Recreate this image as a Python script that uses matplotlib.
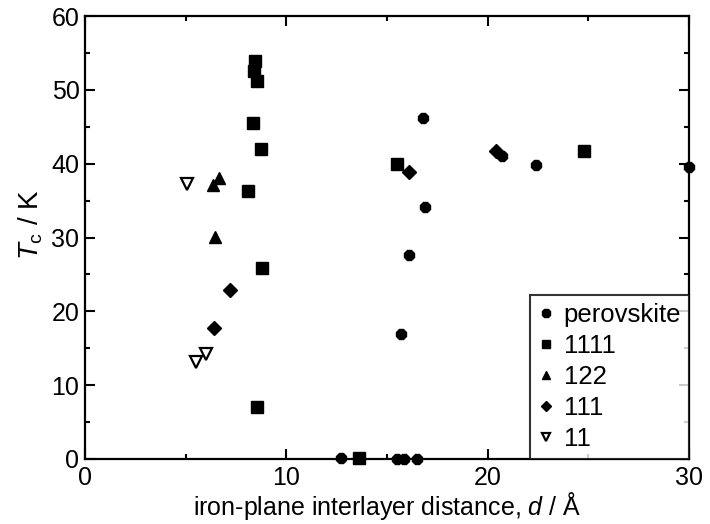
import matplotlib
matplotlib.use("Agg")
import matplotlib.pyplot as plt
from matplotlib.ticker import MultipleLocator

plt.rcParams['font.family'] = ['Liberation Sans', 'DejaVu Sans']
plt.rcParams['mathtext.fontset'] = 'custom'
plt.rcParams['mathtext.rm'] = 'Liberation Sans'
plt.rcParams['mathtext.it'] = 'Liberation Sans:italic'

# data: (d / Å, Tc / K)
perov_d = [16.8, 16.9, 16.1, 15.7, 20.7, 22.4, 30.0, 12.7, 15.5, 15.85, 16.5]
perov_tc = [46.2, 34.1, 27.6, 16.9, 41.1, 39.8, 39.5, 0.2, 0.0, 0.0, 0.0]

p1111_d = [8.45, 8.4, 8.55, 8.35, 8.75, 8.1, 8.8, 8.55, 15.5, 24.8, 13.6]
p1111_tc = [53.9, 52.6, 51.2, 45.5, 42.0, 36.3, 25.9, 7.0, 39.9, 41.7, 0.1]

p122_d = [6.66, 6.35, 6.45]
p122_tc = [38.0, 37.1, 30.1]

p111_d = [7.2, 6.4, 16.1, 20.4]
p111_tc = [22.9, 17.8, 38.9, 41.7]

p11_d = [5.05, 6.0, 5.5]
p11_tc = [37.2, 14.2, 13.1]

fig = plt.figure(figsize=(7.10, 5.24), dpi=100)
ax = fig.add_axes([85/710, 1-459/524, (689-85)/710, (459-16)/524])

kw = dict(linestyle='none', color='black', clip_on=False)
ax.plot(perov_d, perov_tc, marker='8', markersize=8.5, label='perovskite', **kw)
ax.plot(p1111_d, p1111_tc, marker='s', markersize=8, label='1111', **kw)
ax.plot(p122_d, p122_tc, marker='^', markersize=8.5, label='122', **kw)
ax.plot(p111_d, p111_tc, marker='D', markersize=6.8, label='111', **kw)
ax.plot(p11_d, p11_tc, marker='v', markersize=8, markerfacecolor='white',
        markeredgecolor='black', markeredgewidth=1.6, label='11', **kw)

ax.set_xlim(0, 30)
ax.set_ylim(0, 60)
ax.xaxis.set_major_locator(MultipleLocator(10))
ax.xaxis.set_minor_locator(MultipleLocator(5))
ax.yaxis.set_major_locator(MultipleLocator(10))
ax.yaxis.set_minor_locator(MultipleLocator(5))
ax.tick_params(which='both', direction='in', top=True, right=True, width=1.5, labelsize=18)
ax.tick_params(which='major', length=7)
ax.tick_params(which='minor', length=3.6)
ax.tick_params(axis='x', which='major', pad=5)
ax.tick_params(axis='y', which='major', pad=4)
for s in ax.spines.values():
    s.set_linewidth(1.6)

ax.set_xlabel('iron-plane interlayer distance, $d$ / Å', fontsize=18, labelpad=0)
ax.set_ylabel('$T_\\mathrm{c}$ / K', fontsize=20, labelpad=6)
ax.yaxis.set_label_coords(-0.066, 0.53)

leg = ax.legend(loc='lower right', borderaxespad=0, fontsize=18.5, frameon=True,
                fancybox=False, edgecolor='black', markerscale=0.72,
                handlelength=0.6, handletextpad=0.4, labelspacing=0.28,
                borderpad=0.3)
leg.get_frame().set_linewidth(1.5)

fig.savefig('out.png', dpi=100)
